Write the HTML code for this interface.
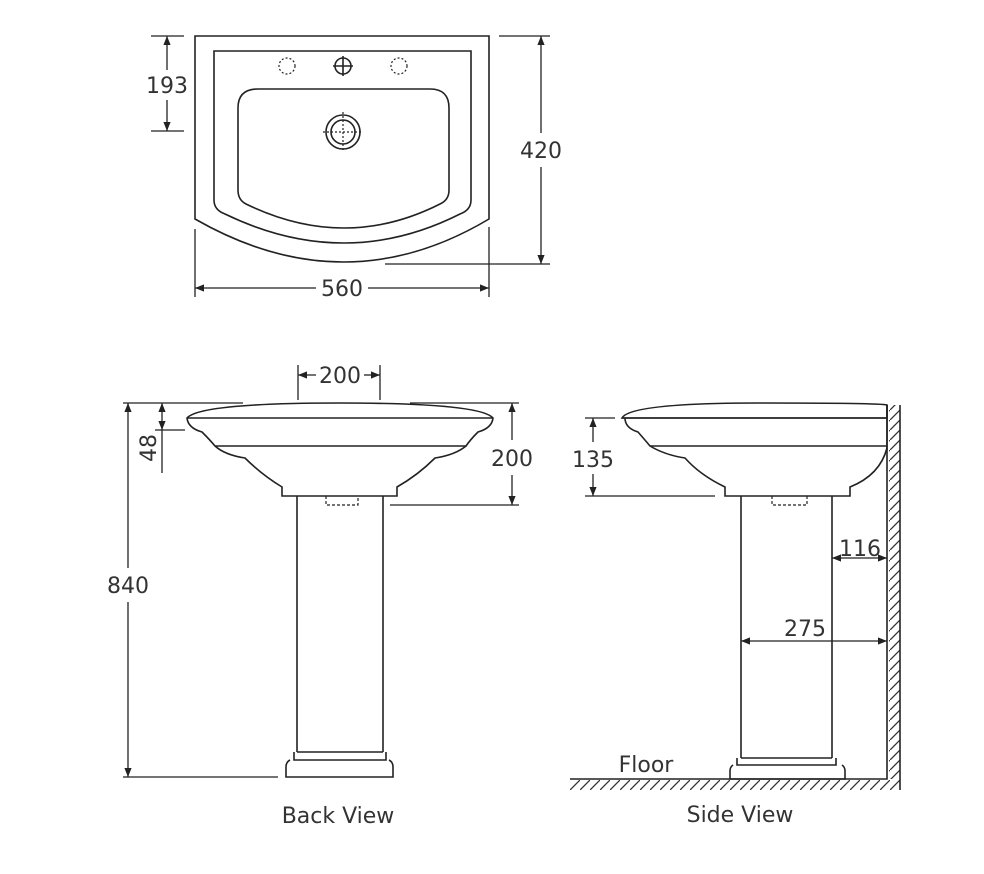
<!DOCTYPE html>
<html><head><meta charset="utf-8"><style>
html,body{margin:0;padding:0;background:#fff;}
svg{display:block;}
text{font-family:"DejaVu Sans","Liberation Sans",sans-serif;fill:#333;}
</style></head><body>
<svg width="984" height="874" viewBox="0 0 984 874" xmlns="http://www.w3.org/2000/svg">
<defs>
<marker id="a" viewBox="0 0 10 10" refX="10" refY="5" markerWidth="7" markerHeight="7" orient="auto-start-reverse"><path d="M0,1 L10,5 L0,9 z" fill="#222"/></marker>
<pattern id="h" width="10" height="10" patternUnits="userSpaceOnUse"><path d="M0,10 L10,0" stroke="#333" stroke-width="1.3"/></pattern>
</defs>
<g fill="none" stroke="#222" stroke-width="1.6">
<path d="M195,36 H489 V219 Q345,305 195,219 Z"/>
<path d="M214,51 H471 V200 Q471,210 460,214 Q345,272 225,214 Q214,210 214,200 Z"/>
<path d="M258,89 H430 Q449,89 449,108 V190 Q449,200 440,204 Q345,252 246,204 Q238,200 238,190 V108 Q238,89 258,89 Z"/>
<circle cx="343" cy="132" r="17"/><circle cx="343" cy="132" r="12"/>
<circle cx="343" cy="66" r="8"/><path d="M333,66 H353 M343,56 V76"/>
<g stroke-dasharray="2,2" stroke-width="1.2"><circle cx="287" cy="66" r="8"/><circle cx="399" cy="66" r="8"/><path d="M323,132 H363 M343,112 V152"/></g>
<path d="M187,418 Q200,403 340,403 Q480,403 493,418 Q492,428 478,432 Q470,440 466,446 H215 Q210,440 202,432 Q188,428 187,418 Z"/>
<path d="M187,418 H493"/>
<path d="M215,446 Q225,455 245,458 Q262,475 282,487 V496 H397 V487 Q418,475 435,458 Q455,455 466,446"/>
<path d="M297,496 V752 M383,496 V752 M297,752 H383 M294,752 V760 H386 V752 M290,760 Q286,762 286,767 V777 H393 V767 Q393,762 389,760"/>
<path d="M326,496 V505 H358 V496" stroke-dasharray="3,2" stroke-width="1.2"/>
<path d="M622,418 Q630,403 760,403 Q880,403 887,405 V418 Z"/>
<path d="M622,418 H887 M650,446 H887 M887,405 V450"/>
<path d="M625,418 Q625,428 638,432 Q645,440 650,446 Q665,455 685,458 Q700,475 725,487 V496 H850 V487 Q880,475 887,448"/>
<path d="M741,496 V758 M832,496 V758 M741,758 H832 M737,758 V765 H836 V758 M733,765 Q730,767 730,771 V779 H845 V771 Q845,767 842,765"/>
<path d="M772,496 V505 H807 V496" stroke-dasharray="3,2" stroke-width="1.2"/>
</g>
<rect x="889" y="405" width="11" height="374" fill="url(#h)"/>
<rect x="570" y="780" width="330" height="10" fill="url(#h)"/>
<g fill="none" stroke="#222" stroke-width="1.6">
<path d="M887,405 V779 H570 M900,405 V790"/>
</g>
<g stroke="#222" stroke-width="1.3" fill="none">
<path d="M151,36 H184 M151,131 H184 M499,36 H550 M385,264 H550 M195,229 V297 M489,227 V297"/>
<path d="M167,36 V70" marker-start="url(#a)"/><path d="M167,100 V131" marker-end="url(#a)"/>
<path d="M541,36 V133" marker-start="url(#a)"/><path d="M541,167 V264" marker-end="url(#a)"/>
<path d="M195,288 H316" marker-start="url(#a)"/><path d="M368,288 H489" marker-end="url(#a)"/>
<path d="M298,365 V400 M380,365 V400"/>
<path d="M298,375 H316" marker-start="url(#a)"/><path d="M364,375 H380" marker-end="url(#a)"/>
<path d="M123,403 H243 M123,777 H278 M155,430 H185 M410,403 H519 M390,505 H519"/>
<path d="M162,403 V430" marker-start="url(#a)" marker-end="url(#a)"/><path d="M162,430 V473"/>
<path d="M128,403 V568" marker-start="url(#a)"/><path d="M128,602 V777" marker-end="url(#a)"/>
<path d="M512,403 V440" marker-start="url(#a)"/><path d="M512,475 V505" marker-end="url(#a)"/>
<path d="M585,418 H615 M585,496 H715"/>
<path d="M593,418 V442" marker-start="url(#a)"/><path d="M593,474 V496" marker-end="url(#a)"/>
<path d="M832,558 H887" marker-start="url(#a)" marker-end="url(#a)"/>
<path d="M741,641 H887" marker-start="url(#a)" marker-end="url(#a)"/>
</g>
<g font-size="22" text-anchor="middle">
<text x="167" y="93">193</text>
<text x="541" y="158">420</text>
<text x="342" y="296">560</text>
<text x="340" y="383">200</text>
<text x="128" y="593">840</text>
<text x="512" y="466">200</text>
<text x="593" y="467">135</text>
<text x="860" y="556">116</text>
<text x="805" y="636">275</text>
<text transform="translate(156,448) rotate(-90)">48</text>
<text x="646" y="772">Floor</text>
<text x="338" y="823">Back View</text>
<text x="740" y="822">Side View</text>
</g>
</svg>
</body></html>
